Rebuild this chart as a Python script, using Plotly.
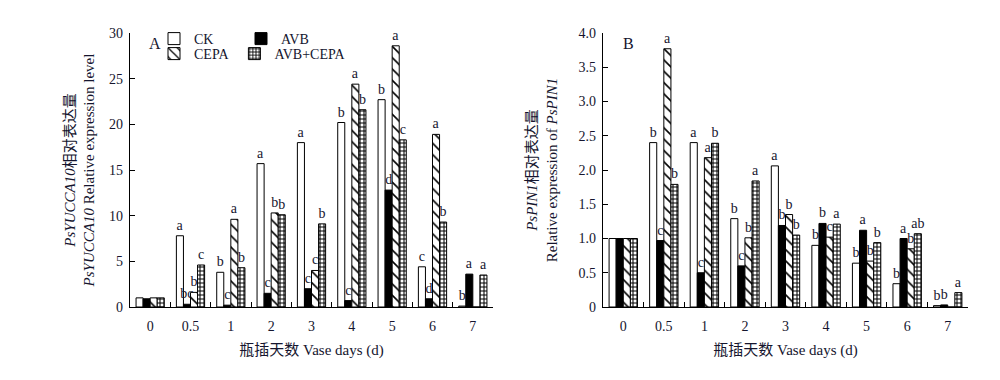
import plotly.graph_objects as go

days = ["0", "0.5", "1", "2", "3", "4", "5", "6", "7"]
series = ["CK", "AVB", "CEPA", "AVB+CEPA"]

# Panel A: PsYUCCA10
yucca_ck = [1.0, 7.8, 3.8, 15.7, 18.0, 20.2, 22.7, 4.4, 0.1]
yucca_avb = [0.9, 0.3, 0.2, 1.5, 2.0, 0.7, 12.8, 0.9, 3.6]
yucca_cepa = [1.0, 1.6, 9.6, 10.3, 4.0, 24.4, 28.6, 18.9, 0]
yucca_mix = [1.0, 4.6, 4.3, 10.1, 9.1, 21.6, 18.3, 9.3, 3.5]
yucca_ck_sig = ["", "a", "b", "a", "a", "b", "b", "c", "b"]
yucca_avb_sig = ["", "bc", "c", "c", "c", "c", "d", "d", "a"]
yucca_cepa_sig = ["", "b", "a", "b", "c", "a", "a", "a", ""]
yucca_mix_sig = ["", "c", "b", "b", "b", "b", "c", "b", "a"]

# Panel B: PsPIN1
pin_ck = [1.0, 2.4, 2.4, 1.29, 2.06, 0.9, 0.64, 0.34, 0.02]
pin_avb = [1.0, 0.97, 0.5, 0.6, 1.19, 1.22, 1.12, 1.0, 0.03]
pin_cepa = [1.0, 3.77, 2.18, 1.01, 1.35, 1.02, 0.67, 0.85, 0]
pin_mix = [1.0, 1.79, 2.39, 1.84, 1.05, 1.21, 0.94, 1.07, 0.21]
pin_ck_sig = ["", "b", "a", "b", "a", "b", "b", "b", "b"]
pin_avb_sig = ["", "c", "c", "c", "b", "b", "a", "a", "b"]
pin_cepa_sig = ["", "a", "a", "b", "b", "c", "b", "b", ""]
pin_mix_sig = ["", "b", "b", "a", "b", "a", "b", "ab", "a"]

y_ticks_a = [0, 5, 10, 15, 20, 25, 30]
y_ticks_b = [0, 0.5, 1.0, 1.5, 2.0, 2.5, 3.0, 3.5, 4.0]
y_ticktext_b = ["0", "0.5", "1.0", "1.5", "2.0", "2.5", "3.0", "3.5", "4.0"]

SERIF = "Liberation Serif, Times New Roman, Noto Sans CJK SC, serif"
TXT = "#15152e"

styles = {
    "CK": dict(color="white", pattern=None),
    "AVB": dict(color="black", pattern=None),
    "CEPA": dict(color="white", pattern=dict(shape="\\", fgcolor="black", bgcolor="white", size=8, solidity=0.2)),
    "AVB+CEPA": dict(color="white", pattern=dict(shape="+", fgcolor="black", bgcolor="white", size=4, solidity=0.45)),
}
legend_of = {"CK": "legend", "AVB": "legend", "CEPA": "legend2", "AVB+CEPA": "legend2"}

fig = go.Figure()

def add_panel(vals, sigs, xa, ya, show):
    for name, v, s in zip(series, vals, sigs):
        st = styles[name]
        marker = dict(color=st["color"], line=dict(color="black", width=1))
        if st["pattern"]:
            marker["pattern"] = st["pattern"]
        fig.add_trace(go.Bar(
            x=days, y=v, name=name, text=s, textposition="outside",
            textfont=dict(family=SERIF, size=14, color=TXT),
            constraintext="none", cliponaxis=False,
            marker=marker, xaxis=xa, yaxis=ya, showlegend=show,
            legend=legend_of[name], offsetgroup=name,
        ))

add_panel([yucca_ck, yucca_avb, yucca_cepa, yucca_mix],
          [yucca_ck_sig, yucca_avb_sig, yucca_cepa_sig, yucca_mix_sig], "x", "y", True)
add_panel([pin_ck, pin_avb, pin_cepa, pin_mix],
          [pin_ck_sig, pin_avb_sig, pin_cepa_sig, pin_mix_sig], "x2", "y2", False)

ydom = [1 - 307 / 380, 1 - 33 / 380]
xcommon = dict(type="category", tickson="boundaries", ticks="inside", ticklen=5,
               tickcolor="black", showline=True, linecolor="black", linewidth=1.2,
               showgrid=False, zeroline=False, ticklabelstandoff=6, automargin=False,
               tickfont=dict(family=SERIF, size=14, color=TXT),
               title=dict(text="瓶插天数 Vase days (d)", standoff=11,
                          font=dict(family=SERIF, size=15, color=TXT)))
ycommon = dict(ticks="inside", ticklen=5, tickcolor="black", showline=True,
               linecolor="black", linewidth=1.2, showgrid=False, zeroline=False,
               automargin=False,
               tickfont=dict(family=SERIF, size=14, color=TXT), ticklabelstandoff=3)

legend_common = dict(orientation="h", xanchor="left", yanchor="middle",
                     itemwidth=30, bgcolor="rgba(0,0,0,0)",
                     font=dict(family=SERIF, size=14, color=TXT),
                     tracegroupgap=0, itemclick=False, borderwidth=0)

fig.update_layout(
    template="none",
    width=1000, height=380, margin=dict(l=0, r=0, t=0, b=0, autoexpand=False),
    plot_bgcolor="white", paper_bgcolor="white",
    barmode="group", bargap=0.3, bargroupgap=0,
    xaxis=dict(domain=[0.130, 0.493], anchor="y", **xcommon),
    xaxis2=dict(domain=[0.603, 0.968], anchor="y2", **xcommon),
    yaxis=dict(domain=ydom, anchor="x", range=[0, 30], tickvals=y_ticks_a,
               title=dict(text="<i>PsYUCCA10</i>相对表达量<br><i>PsYUCCA10</i> Relative expression level",
                          standoff=10, font=dict(family=SERIF, size=15, color=TXT)),
               **ycommon),
    yaxis2=dict(domain=ydom, anchor="x2", range=[0, 4], tickvals=y_ticks_b,
                ticktext=y_ticktext_b,
                title=dict(text="<i>PsPIN1</i>相对表达量<br>Relative expression of <i>PsPIN1</i>",
                           standoff=17, font=dict(family=SERIF, size=15, color=TXT)),
                **ycommon),
    legend=dict(x=0.154, y=1 - 39 / 380, entrywidth=42, entrywidthmode="pixels",
                **legend_common),
    legend2=dict(x=0.154, y=1 - 54 / 380, **legend_common),
    annotations=[
        dict(text="A", x=0.155, y=1 - 43 / 380, xref="paper", yref="paper", showarrow=False,
             xanchor="center", yanchor="middle",
             font=dict(family=SERIF, size=16, color=TXT)),
        dict(text="B", x=0.628, y=1 - 43 / 380, xref="paper", yref="paper", showarrow=False,
             xanchor="center", yanchor="middle",
             font=dict(family=SERIF, size=16, color=TXT)),
    ],
)

fig.write_html("out.html", post_script="document.body.style.margin='0px';",
               config={"displayModeBar": False})
